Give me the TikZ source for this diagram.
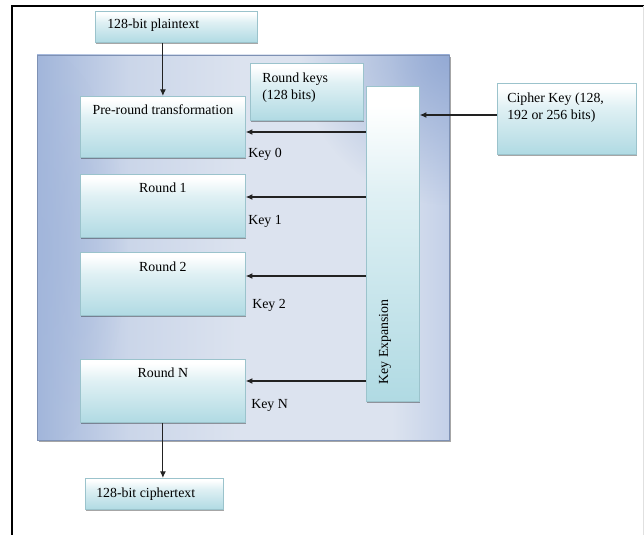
\documentclass[tikz,border=0pt]{standalone}
\usepackage{fontspec}
\setmainfont{Liberation Serif}
\usetikzlibrary{arrows.meta,shadows,fadings}
\definecolor{boxbot}{HTML}{B0DAE3}
\definecolor{boxline}{HTML}{9BC3CC}
\definecolor{stageL}{HTML}{A2B6DB}
\definecolor{stageM}{HTML}{DCE3EF}
\definecolor{stageR}{HTML}{C3D0E8}
\definecolor{stageD}{HTML}{94AAD4}
\definecolor{arrowc}{HTML}{222222}
% white top fading into teal at the bottom
\pgfdeclareverticalshading{tealbox}{100bp}{color(0bp)=(boxbot); color(25bp)=(boxbot);
  color(58bp)=(boxbot!40!white); color(72bp)=(white); color(100bp)=(white)}
% container: darker at the left edge, light across the middle
\pgfdeclarehorizontalshading{stageshade}{100bp}{color(0bp)=(stageL); color(25bp)=(stageL);
  color(36bp)=(stageM!70!stageL); color(50bp)=(stageM); color(68bp)=(stageM); color(75bp)=(stageR);
  color(100bp)=(stageR)}
% soft round spot, opaque in the middle
\tikzfading[name=softspot, inner color=transparent!0, outer color=transparent!100]
\tikzset{
  px/.style 2 args={minimum width=#1*0.75pt, minimum height=#2*0.75pt},
  tbox/.style={draw=boxline, line width=0.6pt, shading=tealbox, inner sep=0pt, anchor=north west,
    drop shadow={shadow xshift=0.8pt, shadow yshift=-1.5pt, fill=black, opacity=0.35}},
  stagebox/.style={fill=stageL, inner sep=0pt, anchor=north west,
    drop shadow={shadow xshift=1pt, shadow yshift=-1.5pt, fill=black, opacity=0.35}},
  lbl/.style={font=\fontsize{10.4}{12.75}\selectfont, inner sep=0pt, text=black},
  arr/.style={-{Latex[length=5pt,width=4.5pt]}, line width=0.8pt, draw=arrowc},
}
\begin{document}
\begin{tikzpicture}[x=0.75pt,y=-0.75pt]
  \useasboundingbox (0,0) rectangle (644,535);
  \fill[white] (0,0) rectangle (644,535);
  % page frame
  \draw[line width=1.3pt] (644,6) -- (12,6) -- (12,535);
  \draw[black!12, line width=0.6pt] (643,6) -- (643,535);

  % container for the rounds
  \node[stagebox, px={412}{385}] (stage) at (37,55) {};
  \begin{scope}
    \clip (stage.north west) rectangle (stage.south east);
    \shade[shading=stageshade] (stage.north west) rectangle (stage.south east);
    \fill[stageD, path fading=softspot] (stage.north east) circle[radius=150];
    \fill[stageL, path fading=softspot, opacity=0.6] (stage.west) ellipse[x radius=90, y radius=200];
  \end{scope}
  \draw[stageD!85!black, line width=0.5pt] (stage.north west) rectangle (stage.south east);

  % boxes
  \node[tbox, px={162}{31}] (plain) at (95,11) {};
  \node[tbox, px={113}{57}] (rkeys) at (250,63) {};
  \node[tbox, px={53}{315}] (kexp) at (366,86) {};
  \node[tbox, px={165}{61}] (pre) at (80,96) {};
  \node[tbox, px={165}{63}] (r1) at (80,174) {};
  \node[tbox, px={165}{63}] (r2) at (80,252) {};
  \node[tbox, px={165}{63}] (rN) at (80,359) {};
  \node[tbox, px={138}{31}] (cipher) at (85,478) {};
  \node[tbox, px={139}{71}] (ckey) at (497,83) {};

  % texts
  \node[lbl, anchor=base west] (tplain) at (107,29) {128-bit plaintext};
  \node[lbl, anchor=base west, align=left] (trk) at (262,100) {Round keys\\(128 bits)};
  \node[lbl, anchor=base] (tpre) at (pre.north |- 0,115) {Pre-round transformation};
  \node[lbl, anchor=base] (tr1) at (r1.north |- 0,193) {Round 1};
  \node[lbl, anchor=base] (tr2) at (r2.north |- 0,272) {Round 2};
  \node[lbl, anchor=base] (trN) at (rN.north |- 0,378) {Round N};
  \node[lbl, anchor=base west] (tcipher) at (96,497) {128-bit ciphertext};
  \node[lbl, anchor=base west, align=left] (tck) at (507,120) {Cipher Key (128,\\192 or 256 bits)};
  \node[lbl, rotate=90] (tke) at (385,342) {Key Expansion};

  \node[lbl, anchor=base west] (k0) at (248,158) {Key 0};
  \node[lbl, anchor=base west] (k1) at (248,225) {Key 1};
  \node[lbl, anchor=base west] (k2) at (252,309) {Key 2};
  \node[lbl, anchor=base west] (kN) at (251,408) {Key N};

  % key feed levels
  \coordinate (y0) at (0,132);
  \coordinate (y1) at (0,197);
  \coordinate (y2) at (0,276);
  \coordinate (yN) at (0,381);
  \coordinate (yc) at (0,115);

  % connectors
  \draw[arr] (plain.south -| pre.north) -- (pre.north);
  \draw[arr] (rN.south) -- (cipher.north -| rN.south);
  \draw[arr] (ckey.west |- yc) -- (kexp.east |- yc);
  \draw[arr] (kexp.west |- y0) -- (pre.east |- y0);
  \draw[arr] (kexp.west |- y1) -- (r1.east |- y1);
  \draw[arr] (kexp.west |- y2) -- (r2.east |- y2);
  \draw[arr] (kexp.west |- yN) -- (rN.east |- yN);
\end{tikzpicture}
\end{document}
